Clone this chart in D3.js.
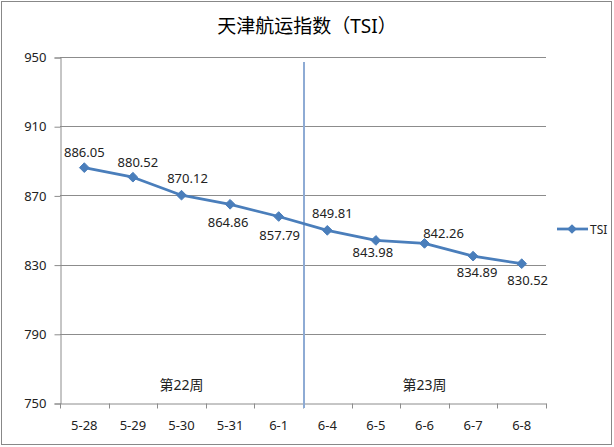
<!DOCTYPE html>
<html><head><meta charset="utf-8">
<script src="https://cdn.jsdelivr.net/npm/d3@7"></script>
<style>body{margin:0;background:#fff}svg{display:block}</style>
</head><body>
<svg id="c" width="614" height="447"></svg>
<script>
const title = "天津航运指数（TSI）";
const categories = ["5-28","5-29","5-30","5-31","6-1","6-4","6-5","6-6","6-7","6-8"];
const values = [886.05, 880.52, 870.12, 864.86, 857.79, 849.81, 843.98, 842.26, 834.89, 830.52];
const seriesName = "TSI";
const yTicks = [750, 790, 830, 870, 910, 950];
const weekLabels = ["第22周", "第23周"];
const weekGroups = [["5-28","6-1"], ["6-4","6-8"]];
// label placement: [dx, dy] offset relative to point
const labelOffsets = [[0,-16],[5,-15],[6,-17],[-2,18],[1,18],[5,-17],[-3,12],[19,-10],[4,16],[6,16]];

const svg = d3.select("#c");
const font = "'Noto Sans', 'Noto Sans CJK SC', sans-serif";
svg.append("rect").attr("x",1.5).attr("y",1.5).attr("width",610).attr("height",443)
  .attr("fill","#fff").attr("stroke","#888").attr("stroke-width",1);

const plotL = 60, plotR = 546, plotT = 57, plotB = 403;
const x = d3.scaleBand().domain(categories).range([plotL, plotR]);
const y = d3.scaleLinear().domain([750, 950]).range([plotB, plotT]);

// title
svg.append("text").attr("x",307).attr("y",26).attr("text-anchor","middle")
  .attr("dominant-baseline","central").attr("font-family",font).attr("font-size",19)
  .attr("fill","#000").text(title);

// gridlines
svg.append("g").selectAll("line").data(yTicks.filter(v=>v!==750)).join("line")
  .attr("x1",plotL).attr("x2",plotR).attr("y1",d=>Math.round(y(d))+0.5).attr("y2",d=>Math.round(y(d))+0.5)
  .attr("stroke","#8c8c8c").attr("stroke-width",1);

// y axis
const yAxis = d3.axisLeft(y).tickValues(yTicks).tickSize(6).tickPadding(8);
const gy = svg.append("g").attr("transform",`translate(${plotL+0.5},0.5)`).call(yAxis);
gy.select(".domain").attr("stroke","#8c8c8c");
gy.selectAll(".tick line").attr("stroke","#8c8c8c");
gy.selectAll("text").attr("font-family",font).attr("font-size",13).attr("fill","#222");

// x axis
const xAxis = d3.axisBottom(x).tickSize(0).tickPadding(17);
const gx = svg.append("g").attr("transform",`translate(0,${Math.round(plotB)+0.5})`).call(xAxis);
gx.select(".domain").attr("stroke","#8c8c8c");
gx.selectAll("text").attr("font-family",font).attr("font-size",13).attr("fill","#222");
// boundary ticks
const bounds = categories.map(c=>x(c)).concat([plotR]);
gx.append("g").selectAll("line").data(bounds).join("line")
  .attr("x1",d=>Math.round(d)+0.5).attr("x2",d=>Math.round(d)+0.5).attr("y1",0).attr("y2",5)
  .attr("stroke","#8c8c8c");

// week separator
const sepX = x(weekGroups[1][0]);
svg.append("line").attr("x1",sepX+1).attr("x2",sepX+1).attr("y1",62).attr("y2",408)
  .attr("stroke","#8eabd4").attr("stroke-width",2);

// week labels
weekLabels.forEach((t,i)=>{
  const g = weekGroups[i];
  const cx = (x(g[0]) + x(g[1]) + x.bandwidth())/2;
  svg.append("text").attr("x",cx).attr("y",384).attr("text-anchor","middle")
    .attr("dominant-baseline","central").attr("font-family",font).attr("font-size",14)
    .attr("fill","#222").text(t);
});

// line
const color = "#4a7ebb";
const px = (d,i)=>x(categories[i]) + x.bandwidth()/2;
svg.append("path").datum(values)
  .attr("d", d3.line().x(px).y(d=>y(d)))
  .attr("fill","none").attr("stroke",color).attr("stroke-width",2.75).attr("stroke-linejoin","round");
const diamond = d3.symbol().type(d3.symbolDiamond2).size(60);
svg.append("g").selectAll("path").data(values).join("path")
  .attr("transform",(d,i)=>`translate(${px(d,i)},${y(d)})`)
  .attr("d",diamond).attr("fill",color).attr("stroke",color).attr("stroke-width",1);

// data labels
svg.append("g").selectAll("text").data(values).join("text")
  .attr("x",(d,i)=>px(d,i)+labelOffsets[i][0]).attr("y",(d,i)=>y(d)+labelOffsets[i][1])
  .attr("text-anchor","middle").attr("dominant-baseline","central")
  .attr("font-family",font).attr("font-size",13).attr("fill","#222")
  .text(d=>d.toFixed(2));

// legend
const lg = svg.append("g").attr("transform","translate(557,229)");
lg.append("line").attr("x1",0).attr("x2",31).attr("stroke",color).attr("stroke-width",2.75);
lg.append("path").attr("transform","translate(15,0)").attr("d",diamond).attr("fill",color);
lg.append("text").attr("x",33).attr("y",0).attr("dominant-baseline","central")
  .attr("font-family",font).attr("font-size",12).attr("fill","#222").text(seriesName);
</script>
</body></html>
